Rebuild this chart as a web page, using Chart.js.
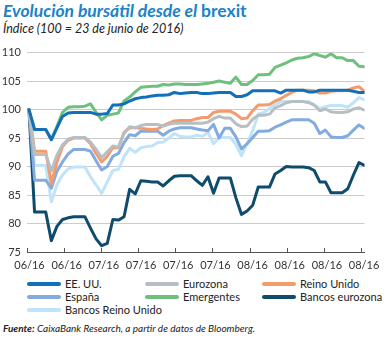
<!DOCTYPE html>
<html>
<head>
<meta charset="utf-8">
<script src="https://cdn.jsdelivr.net/npm/chart.js@4.4.1/dist/chart.umd.min.js"></script>
<style>
  body { margin: 0; width: 388px; height: 338px; background: #fff; position: relative; overflow: hidden; font-family: Lato, "Open Sans", sans-serif; color: #222; }
  #title { position: absolute; left: 3px; top: 0px; font-size: 17.5px; font-weight: bold; font-style: italic; color: #1b83c6; }
  #title span { font-style: normal; }
  #sub { position: absolute; left: 3px; top: 21px; font-size: 12.5px; font-style: italic; color: #222; }
  #wrap { position: absolute; left: 0; top: 40px; width: 388px; height: 235px; }
  #legend { position: absolute; left: 0; top: 277px; width: 388px; }
  .item { position: absolute; height: 13px; font-size: 11px; line-height: 13px; white-space: nowrap; }
  .item i { display: inline-block; width: 34px; height: 4px; border-radius: 2px; vertical-align: middle; margin-right: 4px; position: relative; top: -1px; }
  #src { position: absolute; left: 3px; top: 322px; font-size: 10px; font-style: italic; color: #222; }
</style>
</head>
<body>
<div id="title">Evolución bursátil desde el <span>brexit</span></div>
<div id="sub">Índice (100 = 23 de junio de 2016)</div>
<div id="wrap"><canvas id="chart"></canvas></div>
<div id="legend"></div>
<div id="src"><b>Fuente:</b> CaixaBank Research, a partir de datos de Bloomberg.</div>

<script>
// etiquetas del eje x (10 marcas)
var tickLabels = ['06/16', '06/16', '07/16', '07/16', '07/16', '07/16', '08/16', '08/16', '08/16', '08/16'];
var yTicks = [75, 80, 85, 90, 95, 100, 105, 110];

// series (índice 100 = 23/06/2016), una por sesión
var eeuu = [100, 96.5, 96.5, 96.5, 94.7, 96.8, 98.8, 99.4, 99.5, 99.5, 99.5, 99.5, 99.2, 99.2, 99.3, 100.8, 100.8, 101, 101.5, 101.9,
  102.1, 102.2, 102.4, 102.5, 102.5, 102.6, 103, 102.8, 102.9, 103, 103, 102.8, 102.8, 102.9, 103, 103, 103, 102.3, 102.3, 102.6,
  103.3, 103.3, 103.3, 103.3, 103.3, 102.9, 103.4, 103.4, 103.4, 103.4, 103.1, 103.1, 103.4, 103.4, 103.4, 103.4, 103.4, 103.4, 103.2, 103, 103];
var eurozona = [100, 92.1, 92.1, 92.1, 89.2, 92, 93.8, 94.8, 95.1, 95.1, 95.1, 94.3, 93, 91.6, 92.6, 93.6, 93.4, 95.8, 97, 96.8,
  97.2, 97.4, 97.4, 97.4, 97.1, 97.4, 97.6, 97.6, 97.6, 97.6, 97.6, 97.6, 97.8, 98.4, 98.8, 98.5, 98.5, 97.5, 97, 97.1,
  98.3, 99, 99, 99.2, 100.3, 100.7, 101.2, 101.4, 101.4, 101.4, 101.2, 100.8, 99.8, 100.1, 99.6, 99.5, 99.5, 99.6, 100.1, 100.3, 99.9];
var reinoUnido = [100, 92.7, 92.7, 92.7, 87, 90.8, 93.5, 94.6, 95, 95, 95, 94, 92.3, 90.8, 91.8, 93.3, 93.3, 96, 96.8, 96.8,
  96.7, 96.6, 96.5, 96.6, 97.2, 97.6, 98, 98.1, 98.1, 98.1, 98.4, 98.6, 98.6, 99.5, 99.7, 99.7, 99.7, 99.2, 98.4, 98.5,
  99.8, 100.8, 100.8, 100.9, 101.5, 101.9, 102.5, 103, 103.4, 103.4, 103.4, 103.3, 102.9, 102.9, 103.2, 103.3, 103.3, 103.4, 103.8, 104, 103.2];
var espana = [100, 87.6, 87.6, 87.6, 86.2, 89.2, 90.8, 92.2, 93, 93, 93, 92.7, 91, 89.4, 90, 91.8, 92.3, 94.2, 95.6, 95.4,
  96.2, 96.2, 96.2, 96.2, 95.5, 96.2, 96.6, 96.8, 96.8, 96.8, 96.6, 96.4, 96.3, 97.4, 95, 96.7, 96.7, 95.2, 93.1, 94,
  95.1, 96.2, 96.2, 96.3, 96.9, 97.3, 97.8, 98.2, 98.2, 98.2, 98.2, 97.6, 95.8, 96.4, 95.2, 95.1, 95.1, 95.4, 96.4, 97.3, 96.7];
var emergentes = [100, 96.5, 96.5, 96.5, 94.8, 97, 99.5, 100.4, 100.5, 100.5, 100.6, 101, 99.5, 98.2, 99, 99.2, 99.4, 101.5, 102.2, 103.1,
  103.9, 104, 104.1, 104.1, 104.4, 104.3, 104.5, 104.5, 104.4, 104.4, 104.4, 104.5, 104.6, 104.8, 105, 104.8, 104.6, 105.7, 104.4, 104.4,
  105.1, 106.1, 106.1, 106.2, 107.4, 107.8, 108.2, 108.7, 109, 109.1, 109.3, 109.8, 109.5, 109.2, 109.8, 109.1, 109.1, 108.6, 108.6, 107.6, 107.5];
var bancosEurozona = [100, 82, 82, 82, 77, 79.5, 80.7, 81, 81.2, 81.2, 81.2, 79.2, 77.3, 76.1, 76.5, 80.7, 80.6, 81.2, 86, 85.2,
  87.5, 87.4, 87.3, 87.3, 86.6, 87.5, 88.3, 88.4, 88.4, 88.4, 87.5, 86.7, 88.2, 85.3, 88, 88, 88, 84.5, 81.6, 82.2,
  83.2, 86.4, 86.4, 86.4, 88.7, 89.3, 90, 89.9, 89.9, 89.9, 89.8, 89.3, 87.3, 87.3, 85.4, 85.4, 85.4, 86.1, 88.5, 90.7, 90.2];
var bancosReino = [100, 90.2, 90.2, 90.2, 83.8, 86.8, 88.5, 89.6, 89.9, 89.9, 89.9, 88.2, 86.8, 85.3, 87.3, 89.3, 89.5, 91.7, 93.2, 92.5,
  93.3, 93.5, 93.6, 94.2, 94.3, 95, 95.8, 95.3, 95.2, 95.2, 95.5, 95.3, 96, 94, 95.1, 95.1, 95.1, 93.9, 91.9, 94,
  96.3, 99.2, 99.5, 100.2, 100.9, 101.4, 101.4, 101.4, 101.4, 101.4, 101.4, 100.8, 100.2, 100.5, 100.7, 100.7, 100.7, 100.4, 101.2, 102.1, 101.7];

var names = ['EE. UU.', 'Eurozona', 'Reino Unido', 'España', 'Emergentes', 'Bancos eurozona', 'Bancos Reino Unido'];
var colors = ['#1270bb', '#b8bfc2', '#f49b6e', '#84abdf', '#6ec07c', '#0e4b6d', '#bfe3f8'];
var series = [eeuu, eurozona, reinoUnido, espana, emergentes, bancosEurozona, bancosReino];

// posiciones de las marcas del eje x (en sesiones)
var xMin = -0.35, xMax = 60, xStep = 6.647;

function toPoints(arr) {
  return arr.map(function (v, i) { return { x: i, y: v }; });
}

var datasets = [];
for (let i = 0; i < series.length; i++) {
  datasets.push({
    label: names[i],
    data: toPoints(series[i]),
    borderColor: colors[i],
    backgroundColor: colors[i],
    borderWidth: 3,
    pointRadius: 0,
    tension: 0,
    borderJoinStyle: 'round',
    borderCapStyle: 'round'
  });
}

var ctx = document.getElementById('chart');
var myChart = new Chart(ctx, {
  type: 'line',
  data: { datasets: datasets },
  options: {
    responsive: true,
    maintainAspectRatio: false,
    animation: false,
    layout: { padding: { top: 10, right: 17, left: 0, bottom: 0 } },
    plugins: { legend: { display: false }, tooltip: { enabled: false } },
    scales: {
      x: {
        type: 'linear',
        min: xMin,
        max: xMax,
        afterBuildTicks: function (ax) {
          ax.ticks = tickLabels.map(function (l, k) { return { value: xMin + k * xStep }; });
        },
        afterFit: function (ax) { ax.height = 23; },
        ticks: {
          autoSkip: false,
          maxRotation: 0,
          padding: 11,
          labelOffset: 2.5,
          color: '#333',
          font: { family: 'Lato, "Open Sans", sans-serif', size: 11 },
          callback: function (v, i) { return tickLabels[i]; }
        },
        // marcas hacia arriba, como en el original
        grid: { drawOnChartArea: false, color: '#555', tickLength: -4, lineWidth: 1 },
        border: { color: '#555', width: 1 }
      },
      y: {
        min: 75,
        max: 110,
        afterBuildTicks: function (ax) {
          ax.ticks = yTicks.map(function (v) { return { value: v }; });
        },
        afterFit: function (ax) { ax.width = 27; },
        ticks: {
          padding: 6,
          color: '#333',
          font: { family: 'Lato, "Open Sans", sans-serif', size: 11 }
        },
        grid: { color: '#cccccc', lineWidth: 1, drawTicks: false },
        border: { display: false }
      }
    }
  }
});

// leyenda en tres columnas
var legend = document.getElementById('legend');
var colX = [27, 145, 262];
for (let i = 0; i < names.length; i++) {
  var d = document.createElement('div');
  d.className = 'item';
  d.style.left = colX[i % 3] + 'px';
  d.style.top = (Math.floor(i / 3) * 13) + 'px';
  d.innerHTML = '<i style="background:' + colors[i] + '"></i>' + names[i];
  legend.appendChild(d);
}
</script>
</body>
</html>
